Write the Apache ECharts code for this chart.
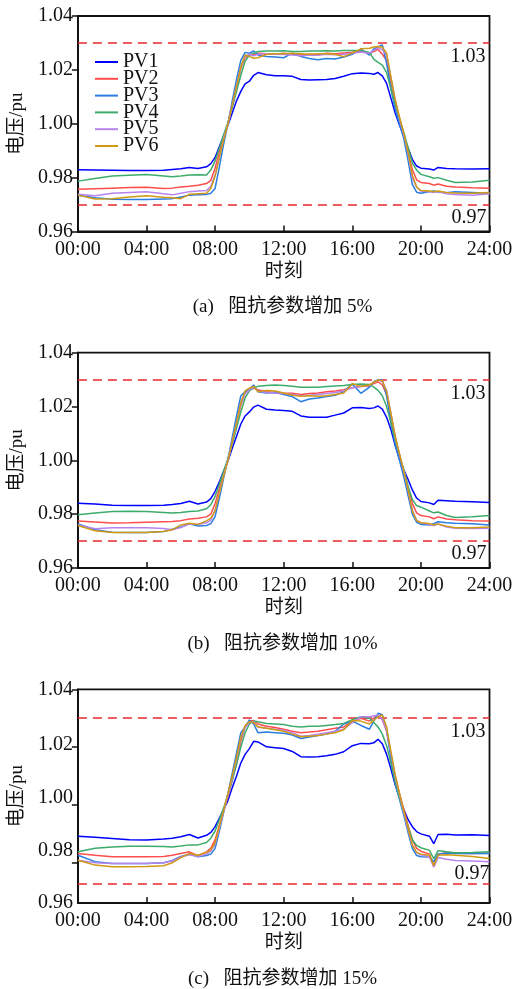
<!DOCTYPE html>
<html><head><meta charset="utf-8">
<script src="https://cdn.jsdelivr.net/npm/echarts@6/dist/echarts.min.js"></script>
<style>html,body{margin:0;padding:0;background:#fff}#c{width:516px;height:989px}</style>
</head><body><div id="c"></div>
<script>
// time of day (hours)
const T = [0,1,2,3,4,5,5.5,6,6.5,7,7.5,7.75,8,8.25,8.5,8.75,9,9.25,9.5,9.75,10,10.25,10.5,11,11.5,12,12.5,13,13.5,14,14.5,15,15.5,16,16.5,17,17.25,17.5,17.75,18,18.25,18.5,18.75,19,19.25,19.5,19.75,20,20.5,20.75,21,21.5,22,23,24];
const SERIES_NAMES = ['PV1','PV2','PV3','PV4','PV5','PV6'];
const CAPTIONS = ['(a)\u2002 阻抗参数增加 5%','(b)\u2002 阻抗参数增加 10%','(c)\u2002 阻抗参数增加 15%'];
const UPPER_LIMIT = [1.03,1.03,1.03];
const LOWER_LIMIT = [0.97,0.97,0.9726];
const LIMIT_TEXT = ['1.03','0.97'];
const Y_LABELS = ['0.96','0.98','1.00','1.02','1.04'];
const Y_LABEL_VALUES_C = [0.9662,0.9842,1.0024,1.0207,1.04];
const Y_TICK_VALUES_C = [0.98,1.00,1.02,1.04];

// (a) +5%
const A_PV1 = [0.9829,0.9828,0.9827,0.9826,0.9826,0.9827,0.9830,0.9833,0.9838,0.9834,0.9840,0.9852,0.9875,0.9915,0.9955,0.9995,1.0040,1.0085,1.0120,1.0148,1.0158,1.0180,1.0190,1.0182,1.0178,1.0178,1.0176,1.0164,1.0162,1.0163,1.0164,1.0168,1.0176,1.0186,1.0188,1.0187,1.0184,1.0190,1.0178,1.0150,1.0095,1.0040,0.9995,0.9955,0.9910,0.9868,0.9843,0.9835,0.9832,0.9828,0.9838,0.9834,0.9833,0.9832,0.9833];
const A_PV2 = [0.9757,0.9759,0.9761,0.9763,0.9764,0.9760,0.9761,0.9765,0.9768,0.9772,0.9778,0.9790,0.9835,0.9895,0.9950,1.0000,1.0065,1.0135,1.0205,1.0245,1.0258,1.0255,1.0262,1.0260,1.0258,1.0262,1.0258,1.0255,1.0258,1.0256,1.0262,1.0260,1.0263,1.0265,1.0268,1.0262,1.0268,1.0276,1.0258,1.0235,1.0155,1.0080,1.0020,0.9960,0.9895,0.9830,0.9792,0.9782,0.9778,0.9772,0.9776,0.9768,0.9765,0.9762,0.9761];
const A_PV3 = [0.9735,0.9725,0.9720,0.9719,0.9719,0.9721,0.9722,0.9728,0.9735,0.9736,0.9737,0.9742,0.9760,0.9840,0.9925,1.0000,1.0085,1.0165,1.0235,1.0265,1.0262,1.0270,1.0255,1.0250,1.0248,1.0245,1.0262,1.0250,1.0242,1.0238,1.0242,1.0240,1.0248,1.0258,1.0277,1.0255,1.0278,1.0285,1.0293,1.0225,1.0130,1.0055,1.0000,0.9945,0.9865,0.9775,0.9746,0.9742,0.9748,0.9750,0.9747,0.9744,0.9748,0.9745,0.9742];
const A_PV4 = [0.9787,0.9797,0.9806,0.9809,0.9812,0.9806,0.9803,0.9806,0.9810,0.9811,0.9810,0.9828,0.9862,0.9910,0.9960,1.0005,1.0060,1.0120,1.0180,1.0232,1.0255,1.0262,1.0268,1.0270,1.0270,1.0271,1.0268,1.0268,1.0270,1.0270,1.0271,1.0270,1.0272,1.0272,1.0272,1.0265,1.0240,1.0228,1.0218,1.0190,1.0130,1.0070,1.0020,0.9968,0.9912,0.9855,0.9828,0.9812,0.9803,0.9798,0.9800,0.9790,0.9782,0.9784,0.9790];
const A_PV5 = [0.9738,0.9733,0.9742,0.9745,0.9748,0.9740,0.9736,0.9742,0.9748,0.9750,0.9752,0.9768,0.9810,0.9878,0.9945,1.0000,1.0070,1.0140,1.0210,1.0250,1.0258,1.0252,1.0258,1.0260,1.0258,1.0257,1.0255,1.0252,1.0255,1.0254,1.0258,1.0256,1.0258,1.0262,1.0266,1.0262,1.0272,1.0282,1.0275,1.0255,1.0170,1.0090,1.0020,0.9960,0.9890,0.9800,0.9765,0.9750,0.9748,0.9745,0.9748,0.9740,0.9737,0.9735,0.9740];
const A_PV6 = [0.9735,0.9721,0.9722,0.9728,0.9733,0.9727,0.9725,0.9722,0.9738,0.9740,0.9742,0.9760,0.9805,0.9875,0.9940,1.0000,1.0070,1.0140,1.0212,1.0255,1.0250,1.0243,1.0245,1.0258,1.0260,1.0260,1.0262,1.0260,1.0258,1.0260,1.0260,1.0258,1.0249,1.0262,1.0278,1.0280,1.0285,1.0287,1.0284,1.0262,1.0175,1.0090,1.0025,0.9965,0.9895,0.9810,0.9765,0.9752,0.9750,0.9748,0.9750,0.9745,0.9743,0.9742,0.9745];

// (b) +10%
const B_PV1 = [0.9841,0.9838,0.9833,0.9832,0.9832,0.9833,0.9836,0.9840,0.9848,0.9838,0.9845,0.9858,0.9885,0.9920,0.9960,0.9998,1.0045,1.0090,1.0135,1.0165,1.0180,1.0198,1.0205,1.0190,1.0187,1.0185,1.0182,1.0165,1.0160,1.0160,1.0160,1.0168,1.0176,1.0195,1.0196,1.0193,1.0195,1.0202,1.0190,1.0160,1.0115,1.0055,1.0005,0.9965,0.9930,0.9890,0.9860,0.9847,0.9842,0.9836,0.9852,0.9850,0.9848,0.9846,0.9843];
const B_PV2 = [0.9775,0.9771,0.9767,0.9768,0.9770,0.9772,0.9773,0.9776,0.9782,0.9785,0.9790,0.9800,0.9840,0.9895,0.9950,1.0000,1.0065,1.0135,1.0205,1.0250,1.0265,1.0268,1.0262,1.0255,1.0252,1.0250,1.0249,1.0245,1.0248,1.0250,1.0255,1.0258,1.0262,1.0270,1.0274,1.0276,1.0285,1.0292,1.0280,1.0245,1.0165,1.0085,1.0020,0.9960,0.9900,0.9840,0.9805,0.9795,0.9790,0.9783,0.9790,0.9782,0.9779,0.9776,0.9775];
const B_PV3 = [0.9764,0.9742,0.9733,0.9732,0.9732,0.9736,0.9744,0.9752,0.9764,0.9756,0.9758,0.9765,0.9791,0.9860,0.9935,1.0005,1.0085,1.0165,1.0240,1.0255,1.0265,1.0280,1.0255,1.0250,1.0252,1.0245,1.0237,1.0218,1.0228,1.0232,1.0237,1.0242,1.0255,1.0284,1.0249,1.0272,1.0292,1.0300,1.0298,1.0240,1.0140,1.0060,1.0000,0.9940,0.9870,0.9800,0.9770,0.9762,0.9760,0.9765,0.9772,0.9768,0.9766,0.9764,0.9760];
const B_PV4 = [0.9798,0.9804,0.9810,0.9811,0.9810,0.9806,0.9804,0.9806,0.9810,0.9812,0.9820,0.9835,0.9866,0.9912,0.9960,1.0005,1.0060,1.0120,1.0180,1.0232,1.0258,1.0270,1.0275,1.0278,1.0280,1.0278,1.0275,1.0272,1.0272,1.0272,1.0274,1.0276,1.0278,1.0282,1.0284,1.0282,1.0272,1.0260,1.0240,1.0200,1.0140,1.0075,1.0020,0.9965,0.9905,0.9855,0.9832,0.9826,0.9812,0.9805,0.9808,0.9795,0.9788,0.9790,0.9795];
const B_PV5 = [0.9760,0.9746,0.9750,0.9750,0.9750,0.9747,0.9742,0.9750,0.9764,0.9762,0.9768,0.9778,0.9815,0.9880,0.9945,1.0000,1.0070,1.0140,1.0210,1.0248,1.0262,1.0272,1.0258,1.0252,1.0250,1.0248,1.0245,1.0240,1.0242,1.0245,1.0248,1.0252,1.0258,1.0270,1.0275,1.0278,1.0290,1.0299,1.0292,1.0260,1.0175,1.0090,1.0022,0.9960,0.9890,0.9815,0.9778,0.9768,0.9762,0.9758,0.9763,0.9752,0.9748,0.9747,0.9748];
const B_PV6 = [0.9758,0.9738,0.9732,0.9732,0.9732,0.9736,0.9742,0.9760,0.9766,0.9762,0.9775,0.9785,0.9812,0.9878,0.9942,1.0000,1.0070,1.0140,1.0215,1.0258,1.0268,1.0275,1.0255,1.0260,1.0258,1.0250,1.0242,1.0238,1.0240,1.0238,1.0240,1.0245,1.0250,1.0285,1.0275,1.0280,1.0290,1.0299,1.0296,1.0255,1.0175,1.0090,1.0025,0.9962,0.9890,0.9812,0.9776,0.9768,0.9765,0.9760,0.9764,0.9755,0.9750,0.9750,0.9752];

// (c) +15%
const C_PV1 = [0.9892,0.9888,0.9884,0.9880,0.9879,0.9882,0.9885,0.9890,0.9898,0.9886,0.9895,0.9905,0.9925,0.9955,0.9985,1.0015,1.0060,1.0100,1.0145,1.0175,1.0195,1.0220,1.0218,1.0201,1.0198,1.0195,1.0185,1.0167,1.0166,1.0167,1.0170,1.0175,1.0184,1.0205,1.0213,1.0212,1.0215,1.0227,1.0212,1.0175,1.0125,1.0070,1.0025,0.9985,0.9950,0.9925,0.9908,0.9900,0.9892,0.9866,0.9898,0.9899,0.9896,0.9897,0.9894];
const C_PV2 = [0.9832,0.9826,0.9821,0.9821,0.9821,0.9822,0.9826,0.9832,0.9838,0.9825,0.9838,0.9850,0.9880,0.9930,0.9980,1.0030,1.0085,1.0150,1.0220,1.0270,1.0290,1.0292,1.0280,1.0272,1.0268,1.0262,1.0255,1.0250,1.0252,1.0255,1.0260,1.0265,1.0270,1.0290,1.0300,1.0290,1.0300,1.0311,1.0295,1.0255,1.0175,1.0100,1.0040,0.9985,0.9930,0.9880,0.9850,0.9840,0.9830,0.9791,0.9830,0.9835,0.9833,0.9832,0.9833];
const C_PV3 = [0.9826,0.9804,0.9798,0.9798,0.9798,0.9800,0.9808,0.9822,0.9830,0.9821,0.9825,0.9830,0.9850,0.9910,0.9975,1.0040,1.0110,1.0180,1.0250,1.0270,1.0294,1.0280,1.0250,1.0252,1.0250,1.0248,1.0242,1.0230,1.0235,1.0240,1.0245,1.0255,1.0280,1.0290,1.0275,1.0262,1.0290,1.0317,1.0312,1.0260,1.0160,1.0075,1.0020,0.9965,0.9905,0.9850,0.9825,0.9821,0.9820,0.9804,0.9830,0.9834,0.9832,0.9832,0.9832];
const C_PV4 = [0.9838,0.9850,0.9855,0.9857,0.9857,0.9856,0.9855,0.9858,0.9862,0.9862,0.9870,0.9885,0.9910,0.9950,0.9990,1.0035,1.0085,1.0140,1.0200,1.0250,1.0280,1.0290,1.0288,1.0282,1.0280,1.0278,1.0272,1.0270,1.0272,1.0272,1.0275,1.0278,1.0282,1.0295,1.0305,1.0300,1.0285,1.0270,1.0245,1.0205,1.0145,1.0080,1.0025,0.9975,0.9925,0.9880,0.9860,0.9852,0.9843,0.9814,0.9842,0.9838,0.9835,0.9836,0.9838];
const C_PV5 = [0.9809,0.9800,0.9798,0.9798,0.9798,0.9800,0.9806,0.9820,0.9828,0.9822,0.9830,0.9840,0.9865,0.9920,0.9978,1.0035,1.0095,1.0160,1.0230,1.0268,1.0285,1.0288,1.0270,1.0265,1.0262,1.0258,1.0250,1.0238,1.0240,1.0245,1.0250,1.0255,1.0262,1.0285,1.0305,1.0305,1.0308,1.0311,1.0296,1.0260,1.0180,1.0100,1.0035,0.9975,0.9915,0.9860,0.9835,0.9828,0.9820,0.9785,0.9818,0.9812,0.9808,0.9806,0.9804];
const C_PV6 = [0.9809,0.9792,0.9786,0.9786,0.9787,0.9790,0.9800,0.9818,0.9832,0.9826,0.9836,0.9845,0.9870,0.9925,0.9982,1.0040,1.0100,1.0165,1.0235,1.0275,1.0288,1.0285,1.0270,1.0265,1.0260,1.0255,1.0245,1.0236,1.0238,1.0240,1.0245,1.0250,1.0260,1.0292,1.0290,1.0280,1.0292,1.0305,1.0311,1.0270,1.0185,1.0105,1.0040,0.9980,0.9920,0.9862,0.9836,0.9830,0.9826,0.9790,0.9826,0.9828,0.9826,0.9822,0.9815];

const PANEL_VALUES = [
  [A_PV1,A_PV2,A_PV3,A_PV4,A_PV5,A_PV6],
  [B_PV1,B_PV2,B_PV3,B_PV4,B_PV5,B_PV6],
  [C_PV1,C_PV2,C_PV3,C_PV4,C_PV5,C_PV6]
];

// ---- styling ----
const COLORS = ['#0000ff','#ff4d4d','#2a7de1','#3cac6c','#b784ee','#cf9a14'];
const FONT = "'Liberation Serif', 'Noto Sans CJK SC', serif";
const LAYOUT = [
  {top:16, height:215.5, ymin:0.96, lowerPos:'insideEndBottom', lowerDist:3},
  {top:352.7, height:215.3, ymin:0.96, lowerPos:'insideEndBottom', lowerDist:3},
  {top:689.3, height:213.7, ymin:0.9661, lowerPos:'insideEndTop', lowerDist:0}
];
const LEFT = 75, WIDTH = 414.5;

const grids = [], xAxes = [], yAxes = [], series = [], graphics = [];
LAYOUT.forEach((L, p) => {
  grids.push({left:LEFT, top:L.top, width:WIDTH, height:L.height, show:true, borderColor:'#111', borderWidth:1.8, backgroundColor:'transparent'});
  xAxes.push({
    type:'value', gridIndex:p, min:0, max:24, interval:4,
    name:'时刻', nameLocation:'middle', nameGap:31,
    nameTextStyle:{fontFamily:FONT, fontSize:19, color:'#111'},
    axisLine:{lineStyle:{color:'#111', width:1.8}},
    axisTick:{inside:true, length:6, lineStyle:{color:'#111', width:1.5}},
    axisLabel:{fontFamily:FONT, fontSize:20, color:'#111', margin:8,
      formatter: v => (v < 10 ? '0' : '') + v + ':00'},
    splitLine:{show:false}
  });
  const y = {
    type:'value', gridIndex:p, min:L.ymin, max:1.04,
    name:'电压/pu', nameLocation:'middle', nameGap:44,
    nameTextStyle:{fontFamily:FONT, fontSize:19, color:'#111'},
    axisLine:{lineStyle:{color:'#111', width:1.8}},
    axisTick:{inside:false, length:6, lineStyle:{color:'#111', width:1.5}},
    axisLabel:{fontFamily:FONT, fontSize:20, color:'#111', margin:5},
    splitLine:{show:false}
  };
  if (p < 2) {
    y.interval = 0.02;
    y.axisLabel.formatter = v => v.toFixed(2);
  } else {
    y.axisTick.customValues = Y_TICK_VALUES_C;
    y.axisLabel.customValues = Y_LABEL_VALUES_C;
    y.axisLabel.formatter = v => {
      let best = 0;
      Y_LABEL_VALUES_C.forEach((c, i) => { if (Math.abs(c - v) < Math.abs(Y_LABEL_VALUES_C[best] - v)) best = i; });
      return Y_LABELS[best];
    };
  }
  yAxes.push(y);

  PANEL_VALUES[p].forEach((vals, k) => {
    const s = {
      name:SERIES_NAMES[k], type:'line', xAxisIndex:p, yAxisIndex:p,
      data:T.map((t, i) => [t, vals[i]]),
      symbol:'none', showSymbol:false, smooth:false,
      lineStyle:{color:COLORS[k], width:1.5}, itemStyle:{color:COLORS[k]},
      z:3 + k
    };
    if (k === 0) {
      s.markLine = {
        silent:true, symbol:'none', animation:false, precision:4,
        lineStyle:{color:'#e8282b', type:[9,6], width:1.5},
        label:{color:'#111', fontFamily:FONT, fontSize:20},
        data:[
          {yAxis:UPPER_LIMIT[p], label:{formatter:LIMIT_TEXT[0], position:'insideEndBottom', distance:4}},
          {yAxis:LOWER_LIMIT[p], label:{formatter:LIMIT_TEXT[1], position:L.lowerPos, distance:L.lowerDist}}
        ]
      };
    }
    series.push(s);
  });

  graphics.push({
    type:'text', x:282.5, y:L.top + L.height + 76,
    style:{text:CAPTIONS[p], font:'19px ' + FONT, fill:'#111', align:'center', verticalAlign:'middle'}
  });
});

const chart = echarts.init(document.getElementById('c'));
chart.setOption({
  animation:false,
  backgroundColor:'#fff',
  grid:grids, xAxis:xAxes, yAxis:yAxes, series:series,
  legend:{
    data:SERIES_NAMES, orient:'vertical', left:95, top:52, padding:0,
    icon:'rect', itemWidth:23, itemHeight:2, itemGap:-3.2,
    textStyle:{fontFamily:FONT, fontSize:20, color:'#111', lineHeight:15.6}
  },
  graphic:graphics
});
</script></body></html>
